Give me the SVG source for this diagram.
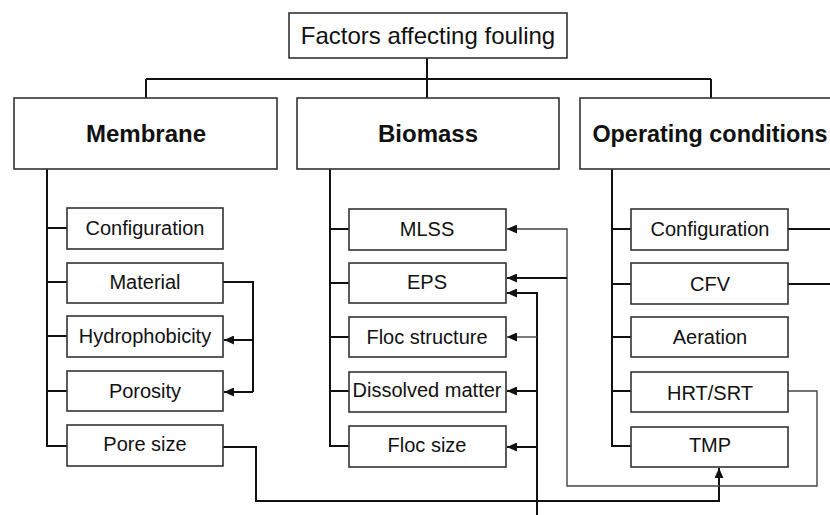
<svg xmlns="http://www.w3.org/2000/svg" width="830" height="515" viewBox="0 0 830 515">
  <defs>
    <marker id="arrow" markerUnits="userSpaceOnUse" markerWidth="11" markerHeight="9" refX="10" refY="4.5" orient="auto">
      <path d="M0,0 L10,4.5 L0,9 z" fill="#111"/>
    </marker>
    <style>
      .box { fill: #fff; stroke: #333; stroke-width: 1.6; }
      .ln { fill: none; stroke: #111; stroke-width: 2; }
      .thin { fill: none; stroke: #444; stroke-width: 1.4; }
      .title { font-family: "Liberation Sans", Arial, sans-serif; font-size: 24px; fill: #111; text-anchor: middle; }
      .cat { font-family: "Liberation Sans", Arial, sans-serif; font-size: 24px; font-weight: bold; fill: #111; text-anchor: middle; }
      .item { font-family: "Liberation Sans", Arial, sans-serif; font-size: 20px; fill: #111; text-anchor: middle; }
    </style>
  </defs>
  <rect width="830" height="515" fill="#fff"/>

  <!-- connectors -->
  <g id="connectors">
    <!-- tree from the root to the three categories -->
    <path class="ln" d="M427,58 V79 M146,79 H711 M146,79 V98 M427,79 V98 M711,79 V98"/>
    <!-- category trunks and their branches -->
    <path class="ln" d="M47,168 V446 H67 M47,228 H67 M47,282 H67 M47,336 H67 M47,391 H67"/>
    <path class="ln" d="M330,168 V446 H349 M330,229 H349 M330,283 H349 M330,337 H349 M330,391 H349"/>
    <path class="ln" d="M612,168 V446 H631 M612,229 H631 M612,284 H631 M612,337 H631 M612,391 H631"/>
    <!-- material influences hydrophobicity and porosity -->
    <path class="ln" d="M223,282 H253 V392"/>
    <path class="ln" d="M253,340 H224" marker-end="url(#arrow)"/>
    <path class="ln" d="M253,392 H224" marker-end="url(#arrow)"/>
    <!-- pore size to TMP -->
    <path class="ln" d="M223,447 H256 V501 H719 V468" marker-end="url(#arrow)"/>
    <!-- HRT/SRT to MLSS and EPS -->
    <path class="thin" d="M788,391 H817 V486 H567 V229 H507" marker-end="url(#arrow)"/>
    <path class="ln" d="M567,278 H507" marker-end="url(#arrow)"/>
    <!-- incoming link to EPS, floc structure, dissolved matter, floc size -->
    <path class="ln" d="M537,515 V293 H507" marker-end="url(#arrow)"/>
    <path class="thin" d="M537,337 H507" marker-end="url(#arrow)"/>
    <path class="ln" d="M537,391 H507" marker-end="url(#arrow)"/>
    <path class="ln" d="M537,447 H507" marker-end="url(#arrow)"/>
    <!-- outgoing links from configuration and CFV -->
    <path class="ln" d="M788,229 H830 M788,284 H830"/>
  </g>

  <!-- root -->
  <g id="root">
    <rect class="box" x="289" y="13" width="278" height="45"/>
    <text class="title" x="428" y="44">Factors affecting fouling</text>
  </g>

  <!-- categories -->
  <g id="membrane">
    <rect class="box" x="14" y="98" width="263" height="71"/>
    <text class="cat" x="146" y="142">Membrane</text>
  </g>
  <g id="biomass">
    <rect class="box" x="297" y="98" width="262" height="71"/>
    <text class="cat" x="428" y="142">Biomass</text>
  </g>
  <g id="operating">
    <rect class="box" x="580" y="98" width="262" height="71"/>
    <text class="cat" x="710" y="142" style="font-size:23.4px">Operating conditions</text>
  </g>

  <!-- membrane factors -->
  <g id="m-configuration">
    <rect class="box" x="67" y="208" width="156" height="41"/>
    <text class="item" x="145" y="235">Configuration</text>
  </g>
  <g id="m-material">
    <rect class="box" x="67" y="263" width="156" height="40"/>
    <text class="item" x="145" y="289">Material</text>
  </g>
  <g id="m-hydrophobicity">
    <rect class="box" x="67" y="316" width="156" height="41"/>
    <text class="item" x="145" y="343">Hydrophobicity</text>
  </g>
  <g id="m-porosity">
    <rect class="box" x="67" y="371" width="156" height="40"/>
    <text class="item" x="145" y="398">Porosity</text>
  </g>
  <g id="m-poresize">
    <rect class="box" x="67" y="425" width="156" height="41"/>
    <text class="item" x="145" y="451">Pore size</text>
  </g>

  <!-- biomass factors -->
  <g id="b-mlss">
    <rect class="box" x="349" y="209" width="157" height="41"/>
    <text class="item" x="427" y="236">MLSS</text>
  </g>
  <g id="b-eps">
    <rect class="box" x="349" y="263" width="157" height="40"/>
    <text class="item" x="427" y="289">EPS</text>
  </g>
  <g id="b-flocstructure">
    <rect class="box" x="349" y="317" width="157" height="40"/>
    <text class="item" x="427" y="344">Floc structure</text>
  </g>
  <g id="b-dissolved">
    <rect class="box" x="349" y="372" width="157" height="40"/>
    <text class="item" x="427" y="397">Dissolved matter</text>
  </g>
  <g id="b-flocsize">
    <rect class="box" x="349" y="426" width="157" height="41"/>
    <text class="item" x="427" y="452">Floc size</text>
  </g>

  <!-- operating condition factors -->
  <g id="o-configuration">
    <rect class="box" x="631" y="209" width="157" height="41"/>
    <text class="item" x="710" y="236">Configuration</text>
  </g>
  <g id="o-cfv">
    <rect class="box" x="631" y="263" width="157" height="41"/>
    <text class="item" x="710" y="291">CFV</text>
  </g>
  <g id="o-aeration">
    <rect class="box" x="631" y="317" width="157" height="40"/>
    <text class="item" x="710" y="344">Aeration</text>
  </g>
  <g id="o-hrtsrt">
    <rect class="box" x="631" y="372" width="157" height="40"/>
    <text class="item" x="710" y="400">HRT/SRT</text>
  </g>
  <g id="o-tmp">
    <rect class="box" x="631" y="427" width="157" height="40"/>
    <text class="item" x="710" y="452">TMP</text>
  </g>
</svg>
